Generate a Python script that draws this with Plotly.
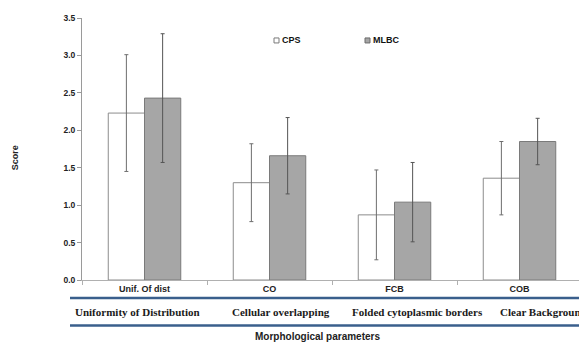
import plotly.graph_objects as go

categories = ["Unif. Of dist", "CO", "FCB", "COB"]
full_names = ["Uniformity of Distribution", "Cellular overlapping", "Folded cytoplasmic borders", "Clear Background"]
series_names = ["CPS", "MLBC"]
cps = [2.23, 1.30, 0.87, 1.36]
cps_err = [0.78, 0.52, 0.60, 0.49]
mlbc = [2.43, 1.66, 1.04, 1.85]
mlbc_err = [0.86, 0.51, 0.53, 0.31]

OFF = 8  # page body margin
SW, SH = 587, 343
W, H = SW - OFF, SH - OFF
# screen-coordinate plot area
SL, SR, ST, SB = 82, 582, 17.5, 280
L, T = SL - OFF, ST - OFF
R = W - (SR - OFF)
B = H - (SB - OFF)
pw, ph = SR - SL, SB - ST

def px(x):
    return (x - SL) / pw

def py(y):
    return (SB - y) / ph

fig = go.Figure()
fig.add_bar(x=categories, y=cps, name=series_names[0],
            marker=dict(color="white", line=dict(color="#8c8c8c", width=1)),
            error_y=dict(type="data", array=cps_err, color="#6e6e6e", thickness=1, width=2))
fig.add_bar(x=categories, y=mlbc, name=series_names[1],
            marker=dict(color="#a6a6a6", line=dict(color="#7a7a7a", width=1)),
            error_y=dict(type="data", array=mlbc_err, color="#555555", thickness=1, width=2))

fig.update_layout(
    width=W, height=H,
    margin=dict(l=L, r=R, t=T, b=B),
    paper_bgcolor="white", plot_bgcolor="white",
    barmode="group", bargap=0.42, bargroupgap=0,
    font=dict(family="Liberation Sans, Arial", size=8, color="#222"),
    showlegend=False,
)
fig.update_yaxes(range=[0, 3.5], dtick=0.5, tickformat=".1f", showgrid=False,
                 showline=True, linecolor="#9a9a9a", linewidth=1,
                 ticks="outside", ticklen=4, tickcolor="#9a9a9a",
                 tickfont=dict(size=8.5, family="Liberation Sans, Arial", color="#222", weight="bold"),
                 zeroline=False)
fig.update_xaxes(showgrid=False, showline=True, linecolor="#b0b0b0", linewidth=1,
                 ticks="outside", ticklen=4, tickcolor="#b0b0b0", tickson="boundaries",
                 tickfont=dict(size=9, family="Liberation Sans, Arial", color="#222", weight="bold"))

# legend drawn as text with square glyphs
leg = [(274, "#ffffff", "#7a7a7a", series_names[0]), (365, "#a6a6a6", "#6a6a6a", series_names[1])]
for x0, fc, lc, name in leg:
    fig.add_shape(type="rect", xref="paper", yref="paper",
                  x0=px(x0), x1=px(x0 + 5), y0=py(42.5), y1=py(37.5),
                  fillcolor=fc, line=dict(color=lc, width=1))
    fig.add_annotation(text="<b>%s</b>" % name, xref="paper", yref="paper",
                       x=px(x0 + 6), y=py(40), showarrow=False, xanchor="left", yanchor="middle",
                       font=dict(size=9, family="Liberation Sans, Arial", color="#111"))

for yy in [298, 325.5]:
    fig.add_shape(type="line", xref="paper", yref="paper", x0=px(70), x1=px(590),
                  y0=py(yy), y1=py(yy), line=dict(color="#3a5f8c", width=2.5))

anchors = [(137, "center"), (281, "center"), (417, "center"), (498, "left")]
for name, (c, anc) in zip(full_names, anchors):
    fig.add_annotation(text="<b>%s</b>" % name, xref="paper", yref="paper",
                       x=px(c), y=py(312), showarrow=False, xanchor=anc, yanchor="middle",
                       font=dict(family="Liberation Serif, DejaVu Serif", size=11, color="#1a1a1a"))

fig.add_annotation(text="<b>Morphological parameters</b>", xref="paper", yref="paper",
                   x=px(317), y=py(337), showarrow=False, xanchor="center", yanchor="middle",
                   font=dict(size=10, family="Liberation Sans, Arial", color="#222"))
fig.add_annotation(text="<b>Score</b>", xref="paper", yref="paper",
                   x=px(15), y=py(158), showarrow=False, textangle=-90,
                   xanchor="center", yanchor="middle",
                   font=dict(size=9, family="Liberation Sans, Arial", color="#222"))

fig.write_html("out.html")
